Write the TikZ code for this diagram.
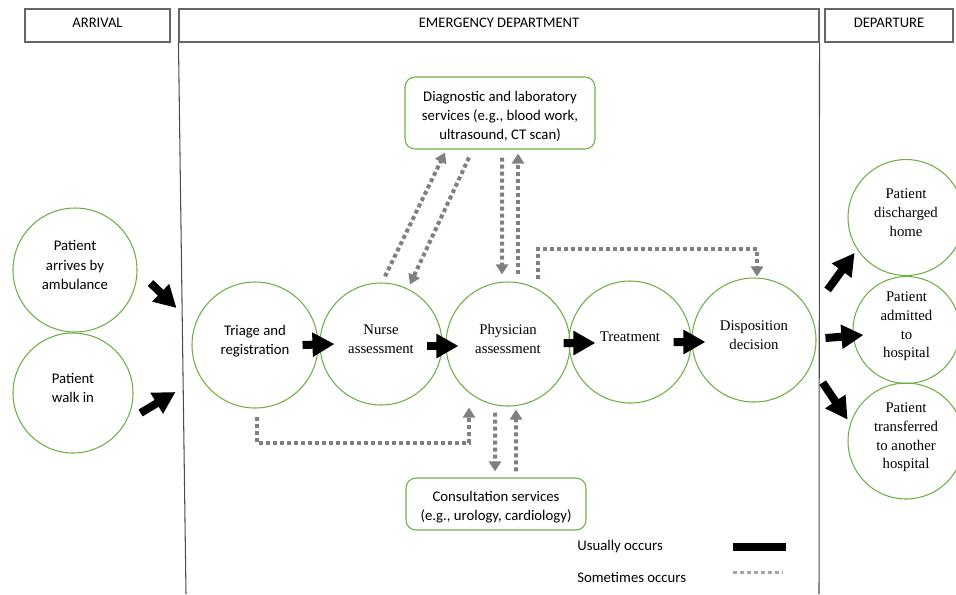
\documentclass[tikz,border=0pt]{standalone}
\usepackage{fontspec}
\setmainfont{Liberation Serif}
\newfontfamily\calibri{Carlito}
\usepackage{tikz}
\usetikzlibrary{arrows.meta, positioning, calc}
\definecolor{edgreen}{RGB}{112,173,71}
\definecolor{sometimesgray}{RGB}{128,128,128}

\begin{document}
\begin{tikzpicture}[
    hdr/.style={draw=black!60, line width=0.6pt, minimum height=0.66cm, text depth=0.12cm,
        font=\calibri\fontsize{8.3}{10}\selectfont},
    edline/.style={draw=black!70, line width=0.6pt},
    circ/.style={circle, draw=edgreen, line width=0.6pt, inner sep=0pt, align=center,
        text depth=0.2cm},
    sanscirc/.style={circ, font=\calibri\fontsize{8.4}{11}\selectfont},
    sericirc/.style={circ, font=\fontsize{8.4}{10.6}\selectfont},
    svc/.style={draw=edgreen, line width=0.6pt, rounded corners=0.2cm, align=center,
        text depth=0.07cm, font=\calibri\fontsize{8.4}{10.8}\selectfont},
    usual/.style={-{Triangle[length=0.44cm,width=0.46cm]}, line width=0.16cm},
    sometimes/.style={-{Triangle[length=0.2cm,width=0.24cm]}, draw=sometimesgray,
        line width=0.08cm, dash pattern=on 0.08cm off 0.06cm},
    legendtext/.style={font=\calibri\fontsize{8.4}{10}\selectfont, anchor=west, inner sep=0pt}
]
\useasboundingbox (0,0) rectangle (19.12,-11.88);
\clip (0,0) rectangle (19.12,-11.88);
% headers
\node[hdr, minimum width=2.9cm] (arrhdr) at (1.95,-0.51) {ARRIVAL};
\node[hdr, minimum width=12.8cm] (edhdr) at (9.98,-0.51) {EMERGENCY DEPARTMENT};
\node[hdr, minimum width=2.56cm] (dephdr) at (17.78,-0.51) {DEPARTURE};
\coordinate (edbl) at (3.72,-11.88);
\coordinate (edbr) at (16.38,-11.88);
\draw[edline] (edhdr.south west) -- (edbl);
\draw[edline] (edhdr.south east) -- (edbr);
% arrival
\node[sanscirc, minimum size=2.48cm] (amb) at (1.5,-5.4) {Patient\\arrives by\\ambulance};
\node[sanscirc, minimum size=2.4cm] (walk) at (1.46,-7.86) {Patient\\walk in};
% emergency department
\node[sanscirc, minimum size=2.52cm] (triage) at (5.1,-6.9) {Triage and\\registration};
\node[sericirc, minimum size=2.44cm] (nurse) at (7.62,-6.88) {Nurse\\assessment};
\node[sericirc, minimum size=2.48cm] (phys) at (10.16,-6.88) {Physician\\assessment};
\node[sericirc, minimum size=2.44cm] (treat) at (12.6,-6.84) {Treatment};
\node[sericirc, minimum size=2.48cm] (disp) at (15.08,-6.8) {Disposition\\decision};
\node[svc, minimum width=3.8cm, minimum height=1.44cm, text height=1.13cm] (diag) at (10.0,-2.26)
    {Diagnostic and laboratory\\services (e.g., blood work,\\ultrasound, CT scan)};
\node[svc, minimum width=3.6cm, minimum height=1.04cm, text height=0.73cm] (cons) at (9.92,-10.08)
    {Consultation services\\(e.g., urology, cardiology)};
% departure
\node[sericirc, minimum size=2.32cm] (home) at (18.12,-4.35) {Patient\\discharged\\home};
\node[sericirc, minimum size=2.14cm] (admit) at (18.13,-6.6) {Patient\\admitted\\to\\hospital};
\node[sericirc, minimum size=2.32cm] (transf) at (18.12,-8.82) {Patient\\transferred\\to another\\hospital};
% usual arrows
\draw[usual] ($(amb.east)+(0.26,-0.26)$) -- ($(amb.east)+(0.78,-0.76)$);
\draw[usual] ($(walk.east)+(0.14,-0.4)$) -- ($(walk.east)+(0.84,0.02)$);
\draw[usual] ($(triage.east)+(-0.32,0)$) -- ($(nurse.west)+(0.3,0)$);
\draw[usual] ($(nurse.east)+(-0.32,-0.04)$) -- ($(phys.west)+(0.26,-0.04)$);
\draw[usual] ($(phys.east)+(-0.14,0.02)$) -- ($(treat.west)+(0.54,-0.02)$);
\draw[usual] ($(treat.east)+(-0.36,0)$) -- ($(disp.west)+(0.28,-0.04)$);
\draw[usual] ($(home.225)+(-0.74,-0.62)$) -- ($(home.225)+(-0.2,0.12)$);
\draw[usual] ($(admit.west)+(-0.54,-0.16)$) -- ($(admit.west)+(0.22,-0.1)$);
\draw[usual] ($(transf.135)+(-0.84,0.34)$) -- ($(transf.135)+(-0.34,-0.4)$);
% sometimes arrows
\draw[sometimes] ($(nurse.north)+(0.08,0.12)$) -- ($(diag.south)+(-1.1,-0.06)$);
\draw[sometimes] ($(diag.south)+(-0.62,-0.16)$) -- ($(nurse.north)+(0.58,-0.04)$);
\draw[sometimes] ($(diag.south)+(0.04,-0.16)$) -- ($(phys.north)+(-0.12,0.14)$);
\draw[sometimes] ($(phys.north)+(0.2,0.14)$) -- ($(diag.south)+(0.36,-0.08)$);
\draw[sometimes] ($(phys.north)+(0.6,0.04)$) |- ($(disp.north)+(0.06,0.56)$) -- ($(disp.north)+(0.06,0.02)$);
\draw[sometimes] ($(triage.south)+(0.04,-0.16)$) |- ($(phys.south)+(-0.78,-0.72)$) -- ($(phys.south)+(-0.78,-0.02)$);
\draw[sometimes] ($(phys.south)+(-0.26,-0.12)$) -- ($(cons.north)+(-0.02,0.12)$);
\draw[sometimes] ($(cons.north)+(0.4,0.12)$) -- ($(phys.south)+(0.16,-0.06)$);
% legend
\node[legendtext] (lgusual) at (11.54,-10.94) {Usually occurs};
\node[legendtext] (lgsome) at (11.54,-11.54) {Sometimes occurs};
\draw[line width=0.16cm] ($(lgusual.west)+(3.12,0)$) -- ++(1.06,0);
\draw[sometimes, -, draw=black!35, line width=0.06cm] ($(lgsome.west)+(3.12,0.1)$) -- ++(1.0,0);
\end{tikzpicture}
\end{document}
